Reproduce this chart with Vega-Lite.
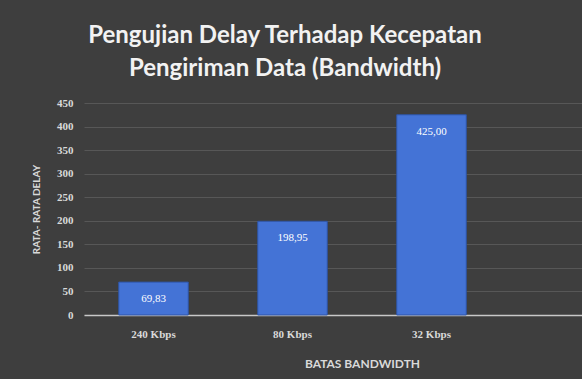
{
  "$schema": "https://vega.github.io/schema/vega-lite/v6.json",
  "autosize": {"type": "none"},
  "width": 498,
  "height": 212,
  "padding": {"left": 84, "top": 103, "right": 0, "bottom": 64},
  "background": "#3e3e3e",
  "config": {
    "view": {"stroke": null},
    "font": "Lato",
    "locale": {"number": {"decimal": ",", "thousands": ".", "grouping": [3], "currency": ["", ""]}}
  },
  "title": {
    "text": ["Pengujian Delay Terhadap Kecepatan", "Pengiriman Data (Bandwidth)"],
    "fontSize": 24,
    "font": "Lato",
    "fontWeight": "bold",
    "color": "#f2f2f2",
    "lineHeight": 33,
    "anchor": "middle",
    "dx": -48,
    "offset": 16
  },
  "data": {
    "values": [
      {"batas": "240 Kbps", "delay": 69.83},
      {"batas": "80 Kbps", "delay": 198.95},
      {"batas": "32 Kbps", "delay": 425.0}
    ]
  },
  "encoding": {
    "x": {
      "field": "batas",
      "type": "nominal",
      "sort": null,
      "scale": {"domain": ["240 Kbps", "80 Kbps", "32 Kbps", " "], "range": [0, 556], "paddingInner": 0.5, "paddingOuter": 0.25},
      "axis": {
        "title": "BATAS BANDWIDTH",
        "titleColor": "#d9d9d9",
        "titleFontSize": 12,
        "titleFontWeight": "bold",
        "titlePadding": 19,
        "labelAngle": 0,
        "labelColor": "#d9d9d9",
        "labelFontSize": 11,
        "labelFontWeight": "bold",
        "labelPadding": 13,
        "labelFont": "Liberation Serif",
        "ticks": false,
        "domainColor": "#c8c8c8",
        "domainWidth": 1.5,
        "grid": false
      }
    },
    "y": {
      "field": "delay",
      "type": "quantitative",
      "scale": {"domain": [0, 450]},
      "axis": {
        "title": "RATA- RATA DELAY",
        "titleColor": "#d9d9d9",
        "titleFontSize": 10,
        "titleFontWeight": "bold",
        "titlePadding": 15,
        "values": [0, 50, 100, 150, 200, 250, 300, 350, 400, 450],
        "labelColor": "#d9d9d9",
        "labelFontSize": 11,
        "labelFontWeight": "bold",
        "labelPadding": 11,
        "labelFont": "Liberation Serif",
        "ticks": false,
        "domain": false,
        "gridColor": "#575757",
        "gridWidth": 1
      }
    }
  },
  "layer": [
    {
      "mark": {"type": "bar", "color": "#4473d6", "stroke": "#2e54a6", "strokeWidth": 1}
    },
    {
      "mark": {"type": "text", "baseline": "top", "dy": 11, "fontSize": 11, "color": "#ffffff", "font": "Liberation Serif"},
      "encoding": {"text": {"field": "delay", "type": "quantitative", "format": ".2f"}}
    }
  ]
}
